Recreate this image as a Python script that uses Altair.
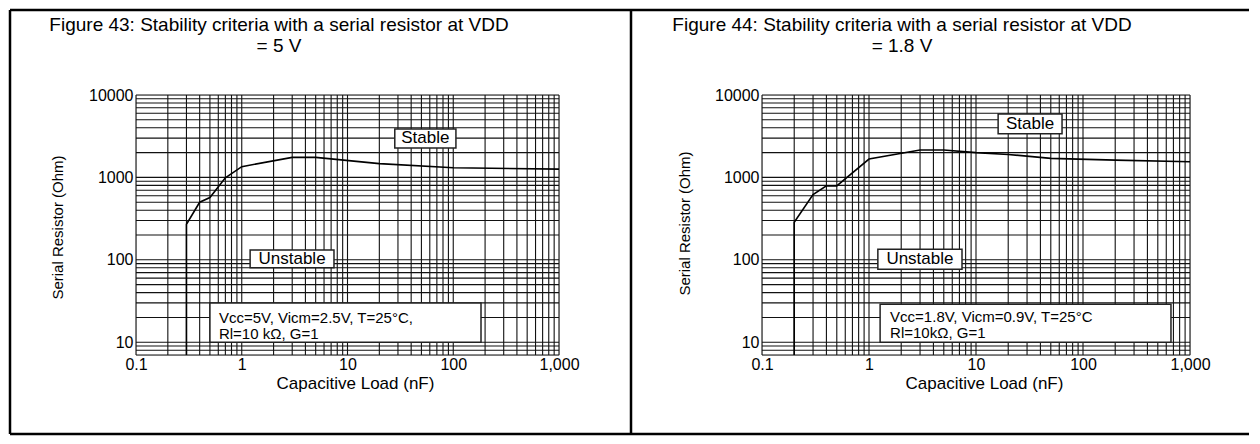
import altair as alt
import pandas as pd

# ---------------- data ----------------
left_title = "Figure 43: Stability criteria with a serial resistor at VDD\n= 5 V"
right_title = "Figure 44: Stability criteria with a serial resistor at VDD\n= 1.8 V"
x_title = "Capacitive Load (nF)"
y_title = "Serial Resistor (Ohm)"

# curves (capacitive load nF, serial resistor Ohm)
left_cap = [0.3, 0.3, 0.4, 0.5, 0.7, 1, 3, 5, 20, 100, 1000]
left_res = [7, 270, 500, 570, 990, 1350, 1750, 1750, 1470, 1310, 1260]
right_cap = [0.2, 0.2, 0.3, 0.4, 0.5, 1, 3, 5, 10, 20, 50, 200, 1000]
right_res = [7, 285, 620, 790, 790, 1670, 2150, 2150, 2000, 1900, 1700, 1620, 1550]

# axes
x_domain = [0.1, 1000]
y_domain = [7, 10000]
x_ticks = [0.1, 1, 10, 100, 1000]
y_ticks = [10, 100, 1000, 10000]
x_grid = [m * 10.0 ** k for k in range(-1, 3) for m in range(1, 10)] + [1000]
y_grid = [7, 8, 9] + [m * 10 ** k for k in range(1, 4) for m in range(1, 10)] + [10000]

# region labels (boxes in data coordinates)
region_labels = ["Stable", "Unstable"]
left_reg_x1 = [28, 1.2]
left_reg_x2 = [106, 7.45]
left_reg_y1 = [2280, 80]
left_reg_y2 = [3870, 132]
right_reg_x1 = [16.1, 1.21]
right_reg_x2 = [63.7, 7.40]
right_reg_y1 = [3376, 76.6]
right_reg_y2 = [5890, 134]

# condition notes
left_notes = ["Vcc=5V, Vicm=2.5V, T=25°C,", "Rl=10 kΩ, G=1"]
left_note_box = [0.5, 183, 10, 30]
left_note_y = [17.1, 10.9]
right_notes = ["Vcc=1.8V, Vicm=0.9V, T=25°C", "Rl=10kΩ, G=1"]
right_note_box = [1.27, 664, 10, 28.9]
right_note_y = [17.6, 11.2]

FONT = "Liberation Sans"


def make_panel(title, cap, res, rx1, rx2, ry1, ry2, note_box, notes, note_y,
               width, title_x, ytx, yty, xtx, note_dx, frame=False):
    xs = alt.Scale(type="log", domain=x_domain, nice=False)
    ys = alt.Scale(type="log", domain=y_domain, nice=False)
    x_axis = alt.Axis(values=x_ticks, format=",~g", title=x_title, grid=False,
                      domain=False, ticks=False, labelFontSize=16, labelPadding=1,
                      labelFlush=False, labelColor="#000", labelFont=FONT,
                      titleFontSize=17, titleFontWeight="normal", titleColor="#000",
                      titleFont=FONT, titleX=xtx, titleY=33, titleAlign="center",
                      titleBaseline="alphabetic")
    y_axis = alt.Axis(values=y_ticks, format="~g", title=y_title, grid=False,
                      domain=False, ticks=False, labelFontSize=16, labelPadding=3,
                      labelFlush=False, labelColor="#000", labelFont=FONT,
                      titleFontSize=15, titleFontWeight="normal", titleColor="#000",
                      titleFont=FONT, titleX=ytx, titleY=yty, titleAngle=270,
                      titleAlign="center", titleBaseline="middle")

    def X(f):
        return alt.X(f, scale=xs, axis=x_axis)

    def Y(f):
        return alt.Y(f, scale=ys, axis=y_axis)

    vgrid = alt.Chart(pd.DataFrame({"x": x_grid})).mark_rule(
        color="#111", strokeWidth=1.1).encode(x=X("x:Q"))
    hgrid = alt.Chart(pd.DataFrame({"y": y_grid})).mark_rule(
        color="#111", strokeWidth=1.1).encode(y=Y("y:Q"))

    curve_df = pd.DataFrame({"x": cap, "y": res, "i": list(range(len(cap)))})
    curve = alt.Chart(curve_df).mark_line(color="#000", strokeWidth=1.6).encode(
        x=X("x:Q"), y=Y("y:Q"), order="i:Q")

    reg_df = pd.DataFrame({"x": rx1, "x2": rx2, "y": ry1, "y2": ry2, "label": region_labels})
    reg_df["cx"] = (reg_df["x"] * reg_df["x2"]) ** 0.5
    reg_df["cy"] = (reg_df["y"] * reg_df["y2"]) ** 0.5
    reg_box = alt.Chart(reg_df).mark_rect(fill="#fff", stroke="#222", strokeWidth=1.5).encode(
        x=X("x:Q"), x2="x2:Q", y=Y("y:Q"), y2="y2:Q")
    reg_txt = alt.Chart(reg_df).mark_text(fontSize=17, font=FONT, color="#000",
                                          align="center", baseline="middle").encode(
        x=X("cx:Q"), y=Y("cy:Q"), text="label:N")

    nb_df = pd.DataFrame({"x": [note_box[0]], "x2": [note_box[1]],
                          "y": [note_box[2]], "y2": [note_box[3]]})
    note_box_m = alt.Chart(nb_df).mark_rect(fill="#fff", stroke="#222", strokeWidth=1.5).encode(
        x=X("x:Q"), x2="x2:Q", y=Y("y:Q"), y2="y2:Q")
    nt_df = pd.DataFrame({"x": [note_box[0]] * len(notes), "y": note_y, "t": notes})
    note_txt = alt.Chart(nt_df).mark_text(fontSize=15, font=FONT, color="#000",
                                          align="left", baseline="alphabetic", dx=note_dx).encode(
        x=X("x:Q"), y=Y("y:Q"), text="t:N")

    ttl = alt.Chart(pd.DataFrame({"t": [title]})).mark_text(
        fontSize=19, font=FONT, color="#000", align="center", baseline="alphabetic",
        lineBreak="\n", lineHeight=21).encode(
        x=alt.value(title_x), y=alt.value(-64), text="t:N")

    layers = [vgrid, hgrid, curve, reg_box, reg_txt, note_box_m, note_txt, ttl]

    if frame:
        one = pd.DataFrame({"k": [0]})
        fr = dict(color="#000", strokeWidth=2.5)
        left_b = alt.Chart(one).mark_rule(**fr).encode(
            x=alt.value(-126), y=alt.value(-85), y2=alt.value(339))
        top_b = alt.Chart(one).mark_rule(**fr).encode(
            x=alt.value(-126), x2=alt.value(1113), y=alt.value(-85))
        bot_b = alt.Chart(one).mark_rule(**fr).encode(
            x=alt.value(-126), x2=alt.value(1113), y=alt.value(339))
        div_b = alt.Chart(one).mark_rule(**fr).encode(
            x=alt.value(495), y=alt.value(-85), y2=alt.value(339))
        layers += [left_b, top_b, bot_b, div_b]

    return alt.layer(*layers).properties(width=width, height=260)


left = make_panel(left_title, left_cap, left_res, left_reg_x1, left_reg_x2,
                  left_reg_y1, left_reg_y2, left_note_box, left_notes, left_note_y,
                  width=423, title_x=143, ytx=-79, yty=132, xtx=219, note_dx=9, frame=True)
right = make_panel(right_title, right_cap, right_res, right_reg_x1, right_reg_x2,
                   right_reg_y1, right_reg_y2, right_note_box, right_notes, right_note_y,
                   width=428, title_x=140, ytx=-78, yty=128, xtx=222, note_dx=10)

chart = alt.hconcat(left, right, spacing=203, bounds="flush", padding=0).configure_view(
    strokeWidth=0).configure(font=FONT, background="#ffffff")

chart.save("out.html", embed_options={"renderer": "svg", "actions": False})
